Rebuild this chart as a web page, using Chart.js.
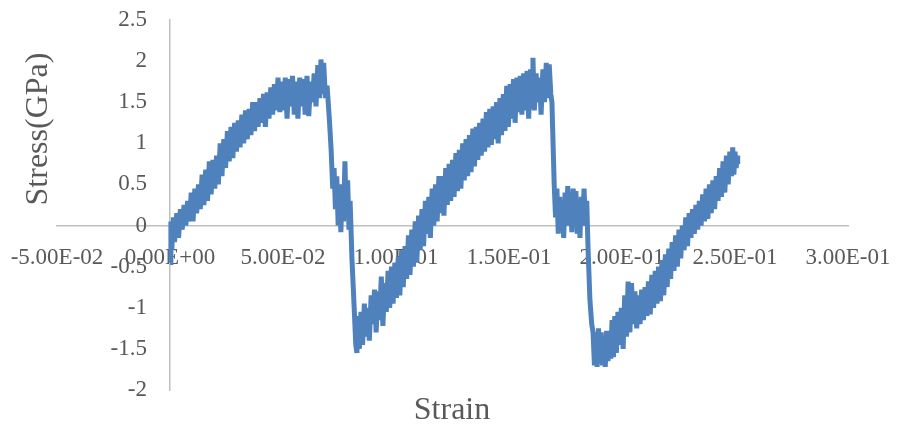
<!DOCTYPE html>
<html>
<head>
<meta charset="utf-8">
<script src="https://cdn.jsdelivr.net/npm/chart.js@4.4.1/dist/chart.umd.min.js"></script>
<style>
  html, body { margin: 0; padding: 0; background: #fff; }
  #wrap { width: 899px; height: 432px; }
</style>
</head>
<body>
<div id="wrap"><canvas id="chart" width="899" height="432"></canvas></div>
<script>
// axis setup
const xTicks = [-0.05, 0, 0.05, 0.1, 0.15, 0.2, 0.25, 0.3];
const yTicks = [-2, -1.5, -1, -0.5, 0, 0.5, 1, 1.5, 2, 2.5];
const xTitle = 'Strain';
const yTitle = 'Stress(GPa)';

// [strain, stress], piece by piece
const rise1 = [
  [0, -0.45], [0.0004, 0.05], [0.0008, -0.3], [0.0015, 0.1], [0.002, -0.2], [0.003, 0.15],
  [0.0038, -0.15], [0.0046, 0.2], [0.0054, -0.05], [0.0062, 0.25], [0.007, 0.0], [0.0078, 0.3],
  [0.0086, 0.05], [0.0094, 0.4], [0.0102, 0.05], [0.011, 0.45], [0.0118, 0.15], [0.0126, 0.5],
  [0.0134, 0.2], [0.0142, 0.62], [0.015, 0.25], [0.0158, 0.68], [0.0166, 0.3], [0.0174, 0.78],
  [0.0182, 0.38], [0.019, 0.8], [0.0198, 0.45], [0.0206, 0.85], [0.0214, 0.5], [0.0222, 1.0],
  [0.023, 0.6], [0.0238, 1.05], [0.0246, 0.7], [0.0254, 1.15], [0.0262, 0.78], [0.027, 1.2],
  [0.0278, 0.82], [0.0286, 1.25], [0.0294, 0.9], [0.0302, 1.28], [0.031, 0.95], [0.0318, 1.35],
  [0.0326, 1.0], [0.0334, 1.4], [0.0342, 1.05], [0.035, 1.42], [0.0358, 1.1], [0.0366, 1.5],
  [0.0374, 1.15], [0.0382, 1.5], [0.039, 1.2], [0.0398, 1.55], [0.0406, 1.25], [0.0414, 1.6],
  [0.0422, 1.2], [0.043, 1.62], [0.0438, 1.3], [0.0446, 1.68], [0.0454, 1.35], [0.0462, 1.72],
  [0.047, 1.4], [0.0478, 1.8], [0.0486, 1.38], [0.0494, 1.75], [0.0502, 1.4], [0.051, 1.8],
  [0.0518, 1.3], [0.0526, 1.78], [0.0534, 1.45], [0.0542, 1.82], [0.055, 1.35], [0.0558, 1.75],
  [0.0566, 1.3], [0.0574, 1.8], [0.0582, 1.45], [0.059, 1.78], [0.0598, 1.35], [0.0606, 1.82],
  [0.0614, 1.33], [0.0622, 1.75], [0.063, 1.5], [0.0638, 1.85], [0.0646, 1.45], [0.0654, 1.95],
  [0.0662, 1.55], [0.0668, 2.02], [0.0674, 1.6], [0.068, 1.98], [0.0688, 1.55], [0.0695, 1.7]
];
const drop1 = [
  [0.0705, 1.3], [0.0713, 0.92], [0.072, 0.45], [0.0726, 0.7], [0.0732, 0.2], [0.0738, 0.6],
  [0.0744, 0.0], [0.075, 0.5], [0.0756, -0.08], [0.0762, 0.4], [0.0768, 0.05], [0.0774, 0.78],
  [0.078, 0.1], [0.0786, 0.55], [0.0792, -0.05], [0.0797, 0.3], [0.0805, -0.4], [0.0815, -1.0],
  [0.0822, -1.45], [0.0827, -1.55]
];
const rise2 = [
  [0.0833, -1.1], [0.0838, -1.5], [0.0845, -1.05], [0.0852, -1.45], [0.086, -0.95], [0.0867, -1.35],
  [0.0875, -1.0], [0.0882, -1.4], [0.089, -0.85], [0.0897, -1.2], [0.0905, -0.78], [0.0912, -1.3],
  [0.092, -0.8], [0.0927, -1.15], [0.0935, -0.62], [0.0942, -1.22], [0.095, -0.7], [0.0957, -1.05],
  [0.0965, -0.55], [0.0972, -1.0], [0.098, -0.5], [0.0987, -0.95], [0.0995, -0.45], [0.1002, -0.88],
  [0.101, -0.38], [0.1017, -0.85], [0.1025, -0.3], [0.1032, -0.75], [0.104, -0.25], [0.1047, -0.65],
  [0.1055, -0.12], [0.1062, -0.6], [0.107, -0.05], [0.1077, -0.5], [0.1085, 0.05], [0.1092, -0.45],
  [0.11, 0.12], [0.1107, -0.3], [0.1115, 0.2], [0.1122, -0.25], [0.113, 0.3], [0.1137, -0.1],
  [0.1145, 0.35], [0.1152, -0.15], [0.116, 0.45], [0.1167, 0.0], [0.1175, 0.5], [0.1182, 0.05],
  [0.119, 0.6], [0.1197, 0.15], [0.1205, 0.6], [0.1212, 0.12], [0.122, 0.7], [0.1227, 0.25],
  [0.1235, 0.75], [0.1242, 0.3], [0.125, 0.8], [0.1257, 0.35], [0.1265, 0.88], [0.1272, 0.42],
  [0.128, 0.92], [0.1287, 0.45], [0.1295, 1.0], [0.1302, 0.55], [0.131, 1.05], [0.1317, 0.6],
  [0.1325, 1.1], [0.1332, 0.65], [0.134, 1.18], [0.1347, 0.72], [0.1355, 1.2], [0.1362, 0.8],
  [0.137, 1.25], [0.1377, 0.85], [0.1385, 1.3], [0.1392, 0.9], [0.14, 1.38], [0.1407, 0.95],
  [0.1415, 1.42], [0.1422, 0.98], [0.143, 1.45], [0.1437, 1.05], [0.1445, 1.5], [0.1452, 1.0],
  [0.146, 1.55], [0.1467, 1.1], [0.1475, 1.6], [0.1482, 1.15], [0.149, 1.7], [0.1497, 1.2],
  [0.1505, 1.72], [0.1512, 1.3], [0.152, 1.78], [0.1527, 1.25], [0.1535, 1.8], [0.1542, 1.38],
  [0.155, 1.82], [0.1557, 1.35], [0.1565, 1.85], [0.1572, 1.4], [0.158, 1.88], [0.1587, 1.3],
  [0.1595, 1.9], [0.1602, 1.45], [0.1606, 2.04], [0.1612, 1.4], [0.162, 1.85], [0.1627, 1.5],
  [0.1635, 1.8], [0.1642, 1.35], [0.165, 1.9], [0.1657, 1.5], [0.1665, 1.98], [0.1672, 1.55],
  [0.1678, 1.96], [0.1685, 1.6], [0.169, 1.5]
];
const drop2 = [
  [0.1695, 1.0], [0.17, 0.5], [0.1706, 0.1], [0.1712, 0.45], [0.1718, -0.1], [0.1724, 0.35],
  [0.173, 0.0], [0.1736, 0.3], [0.1742, -0.15], [0.1748, 0.4], [0.1754, 0.05], [0.176, 0.48],
  [0.1766, 0.0], [0.1772, 0.35], [0.1778, -0.08], [0.1784, 0.45], [0.179, 0.05], [0.1796, 0.42],
  [0.1802, -0.1], [0.1808, 0.3], [0.1814, -0.15], [0.182, 0.35], [0.1826, 0.0], [0.1832, 0.45],
  [0.1838, 0.05], [0.1844, 0.3], [0.185, -0.3], [0.1858, -0.9], [0.1866, -1.2], [0.1872, -1.3]
];
const rise3 = [
  [0.1878, -1.7], [0.1884, -1.3], [0.189, -1.72], [0.1896, -1.25], [0.1902, -1.68], [0.1908, -1.3],
  [0.1914, -1.7], [0.192, -1.35], [0.1926, -1.72], [0.1932, -1.28], [0.1938, -1.65], [0.1944, -1.3],
  [0.195, -1.62], [0.1956, -1.15], [0.1962, -1.6], [0.1968, -1.1], [0.1975, -1.55], [0.1982, -1.05],
  [0.199, -1.45], [0.1997, -1.0], [0.2005, -1.5], [0.2012, -0.85], [0.202, -1.35], [0.2027, -0.68],
  [0.2035, -1.3], [0.2042, -0.7], [0.205, -1.2], [0.2057, -0.8], [0.2065, -1.25], [0.2072, -0.85],
  [0.208, -1.2], [0.2087, -0.78], [0.2095, -1.15], [0.2102, -0.75], [0.211, -1.1], [0.2117, -0.68],
  [0.2125, -1.08], [0.2132, -0.6], [0.214, -1.0], [0.2147, -0.55], [0.2155, -0.95], [0.2162, -0.5],
  [0.217, -0.92], [0.2177, -0.42], [0.2185, -0.85], [0.2192, -0.35], [0.22, -0.75], [0.2207, -0.28],
  [0.2215, -0.65], [0.2222, -0.2], [0.223, -0.55], [0.2237, -0.12], [0.2245, -0.5], [0.2252, -0.05],
  [0.226, -0.4], [0.2267, 0.0], [0.2275, -0.3], [0.2282, 0.1], [0.229, -0.25], [0.2297, 0.15],
  [0.2305, -0.15], [0.2312, 0.2], [0.232, -0.1], [0.2327, 0.25], [0.2335, -0.05], [0.2342, 0.3],
  [0.235, 0.0], [0.2357, 0.38], [0.2365, 0.05], [0.2372, 0.45], [0.238, 0.08], [0.2387, 0.5],
  [0.2395, 0.15], [0.2402, 0.55], [0.241, 0.2], [0.2417, 0.6], [0.2425, 0.3], [0.2432, 0.7],
  [0.244, 0.35], [0.2447, 0.78], [0.2455, 0.4], [0.2462, 0.85], [0.247, 0.5], [0.2477, 0.9],
  [0.2485, 0.6], [0.249, 0.95], [0.2495, 0.62], [0.25, 0.9], [0.2505, 0.7], [0.251, 0.85],
  [0.2512, 0.75]
];

const points = [].concat(rise1, drop1, rise2, drop2, rise3).map(p => ({ x: p[0], y: p[1] }));

const textColor = '#595959';
const axisColor = '#BFBFBF';
const serif = "'Liberation Serif', 'Times New Roman', serif";

function sci(v) {
  if (Math.abs(v) < 1e-12) return '0.00E+00';
  const parts = v.toExponential(2).split('e');
  const e = parseInt(parts[1], 10);
  const sign = e < 0 ? '-' : '+';
  const digits = String(Math.abs(e)).padStart(2, '0');
  return parts[0] + 'E' + sign + digits;
}

// axes sit on the zero lines, so their labels should not shrink the plot
function noPad(s) {
  s.paddingTop = 0; s.paddingBottom = 0; s.paddingLeft = 0; s.paddingRight = 0;
}

const titles = {
  id: 'axisTitles',
  beforeDraw(chart) {
    // y labels sit a bit left of the y axis line
    const items = chart.scales.y.getLabelItems();
    items.forEach(it => { it.options.translation[0] = chart.scales.x.getPixelForValue(0) - 23; });
  },
  afterDraw(chart) {
    const ctx = chart.ctx;
    ctx.save();
    ctx.fillStyle = textColor;
    ctx.font = '32px ' + serif;
    ctx.textAlign = 'center';
    ctx.textBaseline = 'middle';
    ctx.fillText(xTitle, 452, 411);
    ctx.translate(39, 129);
    ctx.rotate(-Math.PI / 2);
    ctx.fillText(yTitle, 0, 0);
    ctx.restore();
  }
};

new Chart(document.getElementById('chart'), {
  type: 'scatter',
  data: {
    datasets: [{
      data: points,
      showLine: true,
      borderColor: '#4F81BD',
      backgroundColor: '#4F81BD',
      borderWidth: 5,
      pointRadius: 0,
      tension: 0,
    }],
  },
  options: {
    responsive: false,
    animation: false,
    layout: { padding: { left: 57, right: 51, top: 20, bottom: 42 } },
    plugins: { legend: { display: false }, tooltip: { enabled: false } },
    scales: {
      x: {
        type: 'linear',
        position: { y: 0 },
        min: xTicks[0],
        max: xTicks[xTicks.length - 1],
        afterBuildTicks: (s) => { s.ticks = xTicks.map(v => ({ value: v })); },
        afterFit: noPad,
        grid: { display: false, drawTicks: false },
        border: { display: true, color: axisColor, width: 1.5 },
        ticks: {
          color: textColor, font: { family: serif, size: 23 }, padding: 19,
          maxRotation: 0, autoSkip: false,
          callback: (v) => sci(v),
        },
      },
      y: {
        type: 'linear',
        position: { x: 0 },
        min: yTicks[0],
        max: yTicks[yTicks.length - 1],
        afterBuildTicks: (s) => { s.ticks = yTicks.map(v => ({ value: v })); },
        afterFit: noPad,
        grid: { display: false, drawTicks: false },
        border: { display: true, color: axisColor, width: 1.5 },
        ticks: {
          color: textColor, font: { family: serif, size: 23 }, padding: 0,
          autoSkip: false,
          callback: (v) => String(v),
        },
      },
    },
  },
  plugins: [titles],
});
</script>
</body>
</html>
